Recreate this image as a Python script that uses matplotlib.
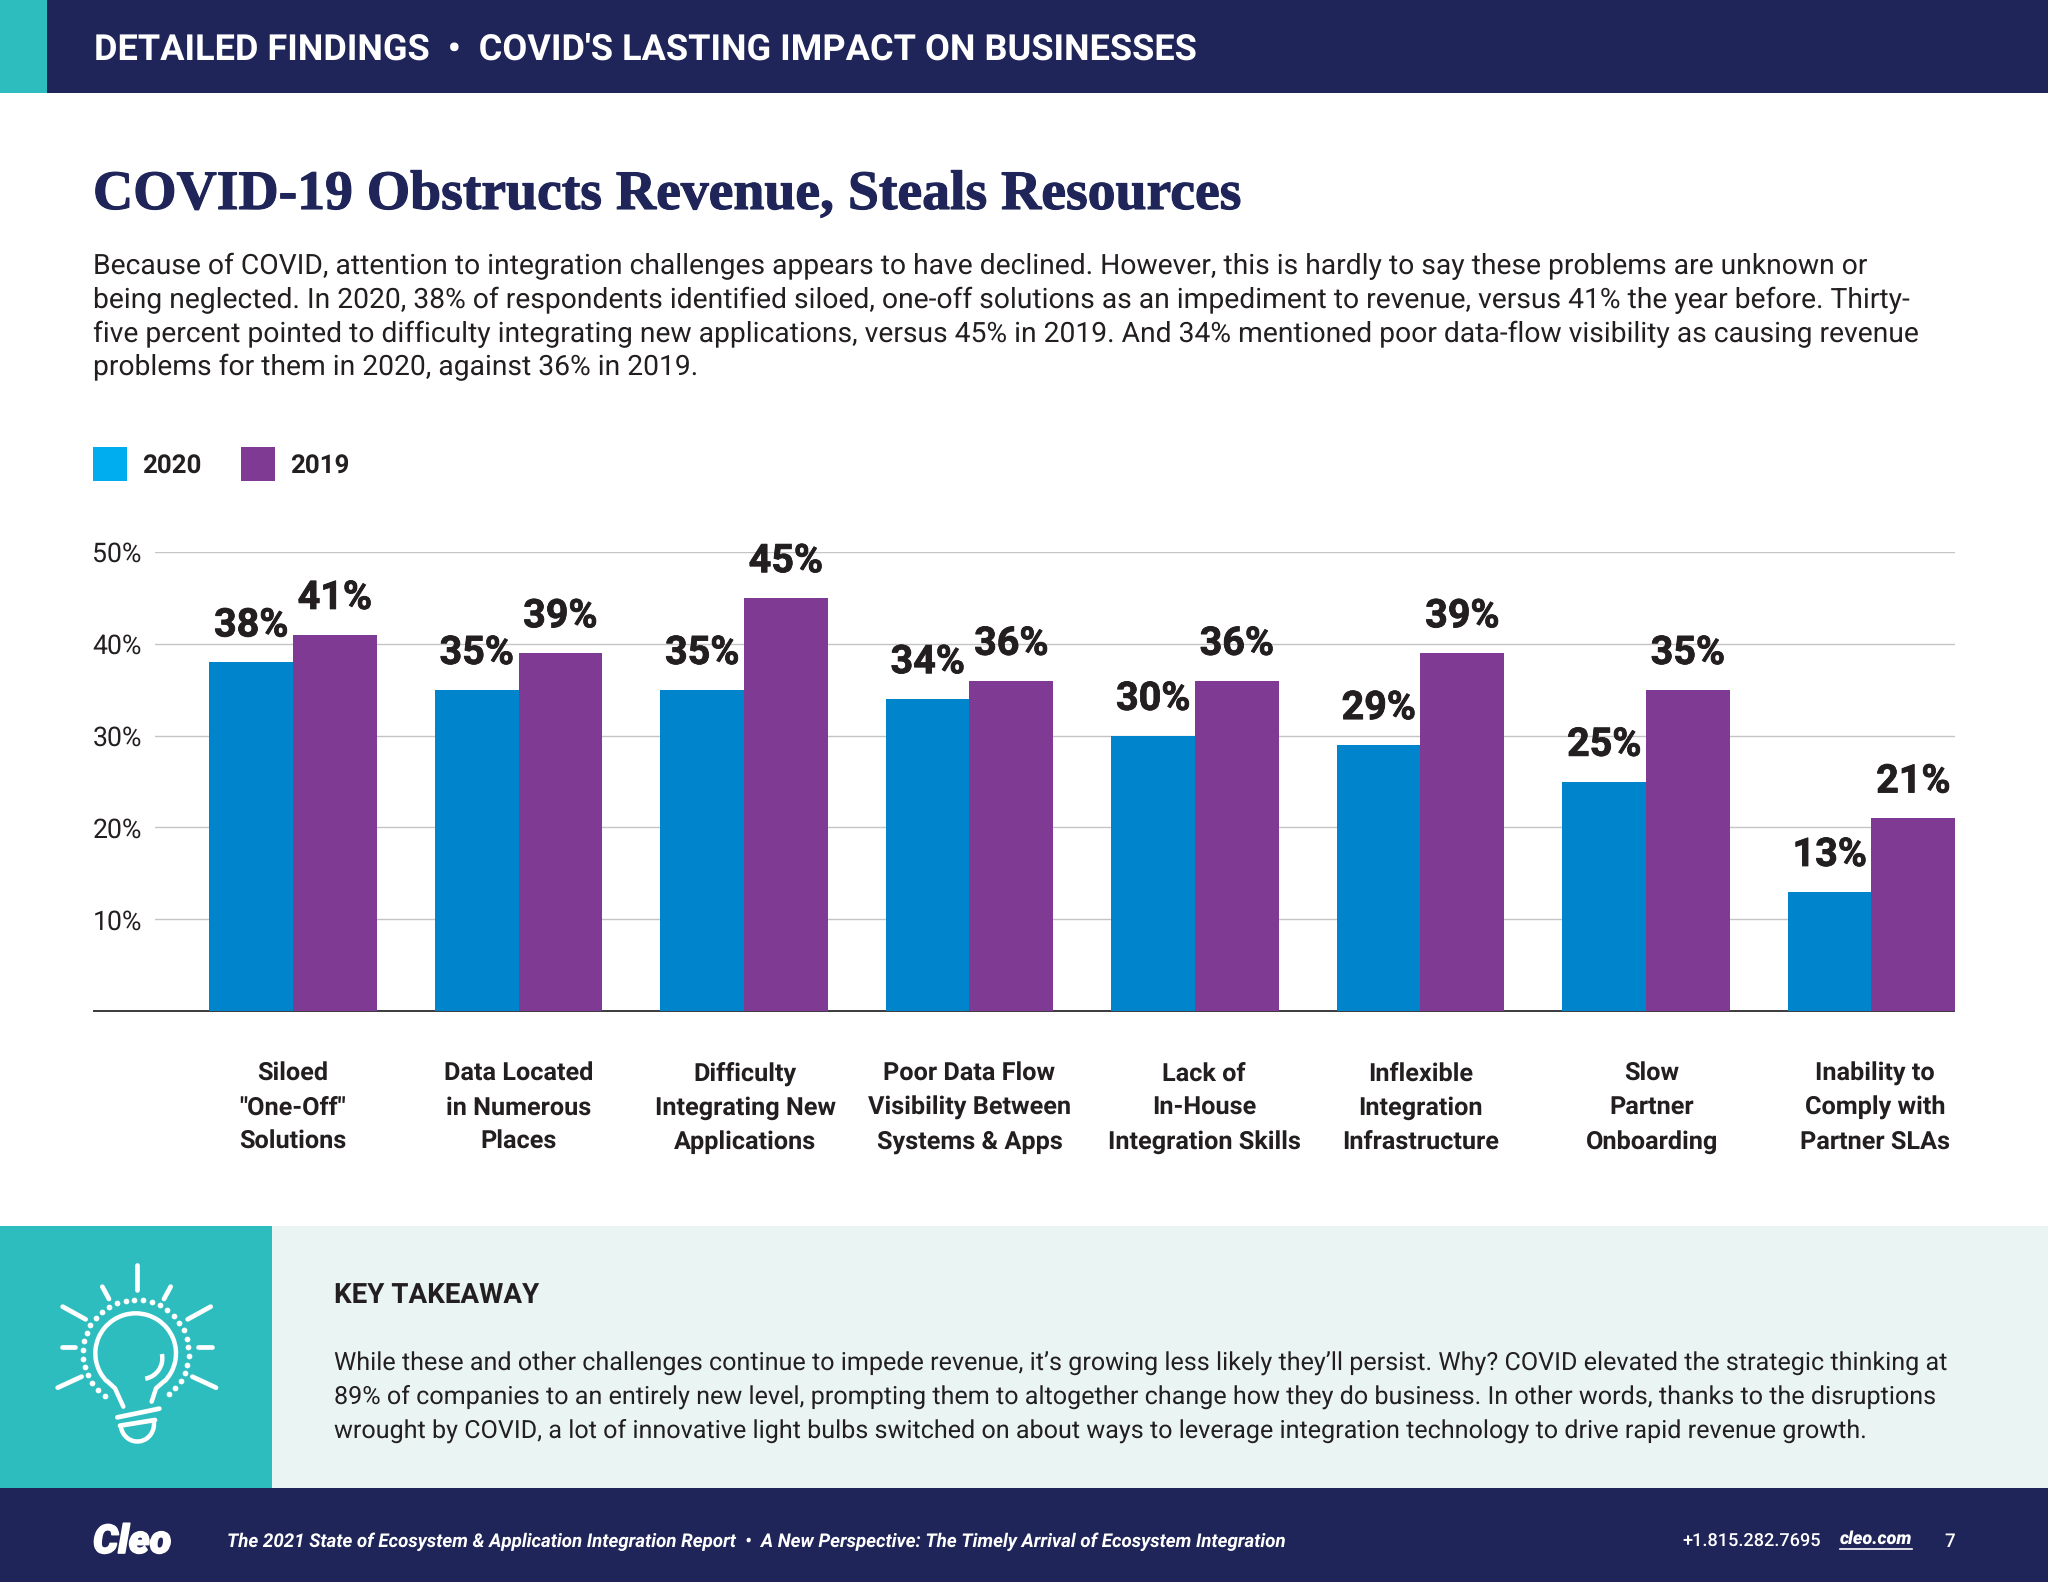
import numpy as np
import matplotlib
matplotlib.use('Agg')
import matplotlib.pyplot as plt
import matplotlib.patheffects as pe
from matplotlib.patches import Rectangle, Arc

categories = ['Siloed\n"One-Off"\nSolutions', 'Data Located\nin Numerous\nPlaces',
              'Difficulty\nIntegrating New\nApplications', 'Poor Data Flow\nVisibility Between\nSystems & Apps',
              'Lack of\nIn-House\nIntegration Skills', 'Inflexible\nIntegration\nInfrastructure',
              'Slow\nPartner\nOnboarding', 'Inability to\nComply with\nPartner SLAs']
values_2020 = [38, 35, 35, 34, 30, 29, 25, 13]
values_2019 = [41, 39, 45, 36, 36, 39, 35, 21]
y_ticks = [10, 20, 30, 40, 50]

body_lines = [
    'Because of COVID, attention to integration challenges appears to have declined. However, this is hardly to say these problems are unknown or',
    'being neglected. In 2020, 38% of respondents identified siloed, one-off solutions as an impediment to revenue, versus 41% the year before. Thirty-',
    'five percent pointed to difficulty integrating new applications, versus 45% in 2019. And 34% mentioned poor data-flow visibility as causing revenue',
    'problems for them in 2020, against 36% in 2019.',
]
takeaway_lines = [
    'While these and other challenges continue to impede revenue, it\u2019s growing less likely they\u2019ll persist. Why? COVID elevated the strategic thinking at',
    '89% of companies to an entirely new level, prompting them to altogether change how they do business. In other words, thanks to the disruptions',
    'wrought by COVID, a lot of innovative light bulbs switched on about ways to leverage integration technology to drive rapid revenue growth.',
]

NAVY = '#1F2559'
TEAL = '#2EBDBF'
PALE = '#EAF5F3'
INK = '#231F20'
BLUE = '#0085CC'
PURPLE = '#7F3A94'

plt.rcParams['font.family'] = ['Roboto', 'DejaVu Sans']
plt.rcParams['text.hinting'] = 'none'
W, H = 2048, 1582
fig = plt.figure(figsize=(W / 100, H / 100), dpi=100, facecolor='white')

# page furniture, in pixel coordinates
page = fig.add_axes([0, 0, 1, 1])
page.set_xlim(0, W)
page.set_ylim(H, 0)
page.axis('off')


def box(x, y, w, h, color):
    page.add_patch(Rectangle((x, y), w, h, facecolor=color, edgecolor='none'))


box(0, 0, W, 93, NAVY)
box(0, 0, 47, 93, TEAL)
box(0, 1226, 272, 262, TEAL)
box(272, 1226, W - 272, 262, PALE)
box(0, 1488, W, 94, NAVY)

page.text(94, 50, "DETAILED FINDINGS  \u2022  COVID'S LASTING IMPACT ON BUSINESSES", color='white',
          fontsize=25.97, fontweight='bold', va='center')
title = page.text(93, 209, 'COVID-19 Obstructs Revenue, Steals Resources', color=NAVY,
                  family='Liberation Serif', fontsize=40.1, fontweight='bold', va='baseline')
title.set_path_effects([pe.withStroke(linewidth=0.8, foreground=NAVY)])
for i, line in enumerate(body_lines):
    page.text(93, 266.5 + i * 33.8, line, color=INK, fontsize=20.35, va='center')

# legend
box(93, 447, 34, 34, '#00AEEF')
page.text(142, 466.5, '2020', color=INK, fontsize=18.6, fontweight='bold', va='center')
box(241, 447, 34, 34, PURPLE)
page.text(290, 466.5, '2019', color=INK, fontsize=18.6, fontweight='bold', va='center')

# chart
left, right, top, bottom = 155, 1955, 552, 1011
ax = fig.add_axes([left / W, 1 - bottom / H, (right - left) / W, (bottom - top) / H])
ax.patch.set_alpha(0)
x = np.arange(len(categories))
bar_w = 83.6 / 225.5
ax.bar(x - bar_w / 2, values_2020, bar_w, color=BLUE, zorder=3)
ax.bar(x + bar_w / 2, values_2019, bar_w, color=PURPLE, zorder=3)
ax.set_xlim((left - 293) / 225.5, (right - 293) / 225.5)
ax.set_ylim(0, 50)
ax.set_yticks(y_ticks)
ax.set_yticklabels([f'{v}%' for v in y_ticks], fontsize=19.2, color=INK)
ax.grid(axis='y', color='#C4C4C8', linewidth=1.0, zorder=0)
ax.set_axisbelow(True)
ax.tick_params(axis='y', length=0, pad=9.5)
ax.tick_params(axis='x', length=0, pad=99)
label_nudge = np.array([0, 0, 0.005, 0, 0.04, 0, 0.025, 0.015])
ax.set_xticks(x + label_nudge)
ax.set_xticklabels(categories, fontsize=18.2, fontweight='bold', color=INK, linespacing=1.53, va='baseline')
for s in ax.spines.values():
    s.set_visible(False)
for xs, vals in ((x - bar_w / 2, values_2020), (x + bar_w / 2, values_2019)):
    for xi, v in zip(xs, vals):
        t = ax.annotate(f'{v}%', (xi, v), xytext=(0, 18.5), textcoords='offset points', ha='center',
                        va='baseline', fontsize=28.4, fontweight='bold', color=INK, zorder=5,
                        annotation_clip=False)
        t.set_path_effects([pe.withStroke(linewidth=0.6, foreground=INK)])
page.plot([93, right], [bottom, bottom], color='#3A3A3C', linewidth=1.4, solid_capstyle='butt')

# key takeaway
page.text(334, 1295.5, 'KEY TAKEAWAY', color=INK, fontsize=20, fontweight='bold', va='center')
for i, line in enumerate(takeaway_lines):
    page.text(334, 1363.5 + i * 33.6, line, color=INK, fontsize=18.13, va='center')

def zx(v):
    return v / 3


def zy(v):
    return 1220 + v / 3


rays = [(410, 135, 410, 210), (307, 200, 327, 237), (512, 200, 492, 237), (188, 260, 257, 298),
        (632, 260, 563, 298), (186, 382, 225, 382), (595, 382, 635, 382), (173, 503, 245, 470),
        (648, 503, 577, 470), (352, 592, 478, 566), (360, 617, 465, 600)]
for x0, y0, x1, y1 in rays:
    page.plot([zx(x0), zx(x1)], [zy(y0), zy(y1)], color='white', linewidth=3.4, solid_capstyle='round')
dot_angles = np.radians(np.linspace(-51, 234, 31))
page.scatter(zx(407 + 159 * np.cos(dot_angles)), zy(398 - 159 * np.sin(dot_angles)), s=17, color='white',
             linewidths=0, zorder=3)
page.add_patch(Arc((zx(407), zy(400)), 242 / 3, 240 / 3, theta1=135, theta2=45, color='white', linewidth=3.2))
page.plot([zx(322), zx(345), zx(370)], [zy(484), zy(505), zy(560)], color='white', linewidth=3.2,
          solid_capstyle='round')
page.plot([zx(492), zx(468), zx(455)], [zy(484), zy(505), zy(545)], color='white', linewidth=3.2,
          solid_capstyle='round')
page.add_patch(Arc((zx(412), zy(612)), 100 / 3, 105 / 3, theta1=-10, theta2=170, color='white', linewidth=3.2))
page.add_patch(Arc((zx(425), zy(415)), 124 / 3, 124 / 3, theta1=-12, theta2=80, color='white', linewidth=3.2))

# footer
logo = page.text(93, 1553, 'Cleo', color='white', fontsize=28.5, fontweight='black', fontstyle='italic',
                 va='baseline')
logo.set_path_effects([pe.withStroke(linewidth=1.2, foreground='white')])
page.text(227, 1542, 'The 2021 State of Ecosystem & Application Integration Report  \u2022  A New Perspective: The Timely Arrival of Ecosystem Integration',
          color='white', fontsize=13.54, fontweight='bold', fontstyle='italic', va='center')
page.text(1682, 1542, '+1.815.282.7695', color='white', fontsize=13.1, fontweight='medium', va='center')
page.text(1840, 1539, 'cleo.com', color='white', fontsize=13, fontweight='black', fontstyle='italic', va='center')
page.plot([1840, 1912], [1549, 1549], color='white', linewidth=1.2)
page.text(1955, 1542, '7', color='white', fontsize=13.5, fontweight='medium', va='center', ha='right')

fig.savefig('out.png', dpi=100)
